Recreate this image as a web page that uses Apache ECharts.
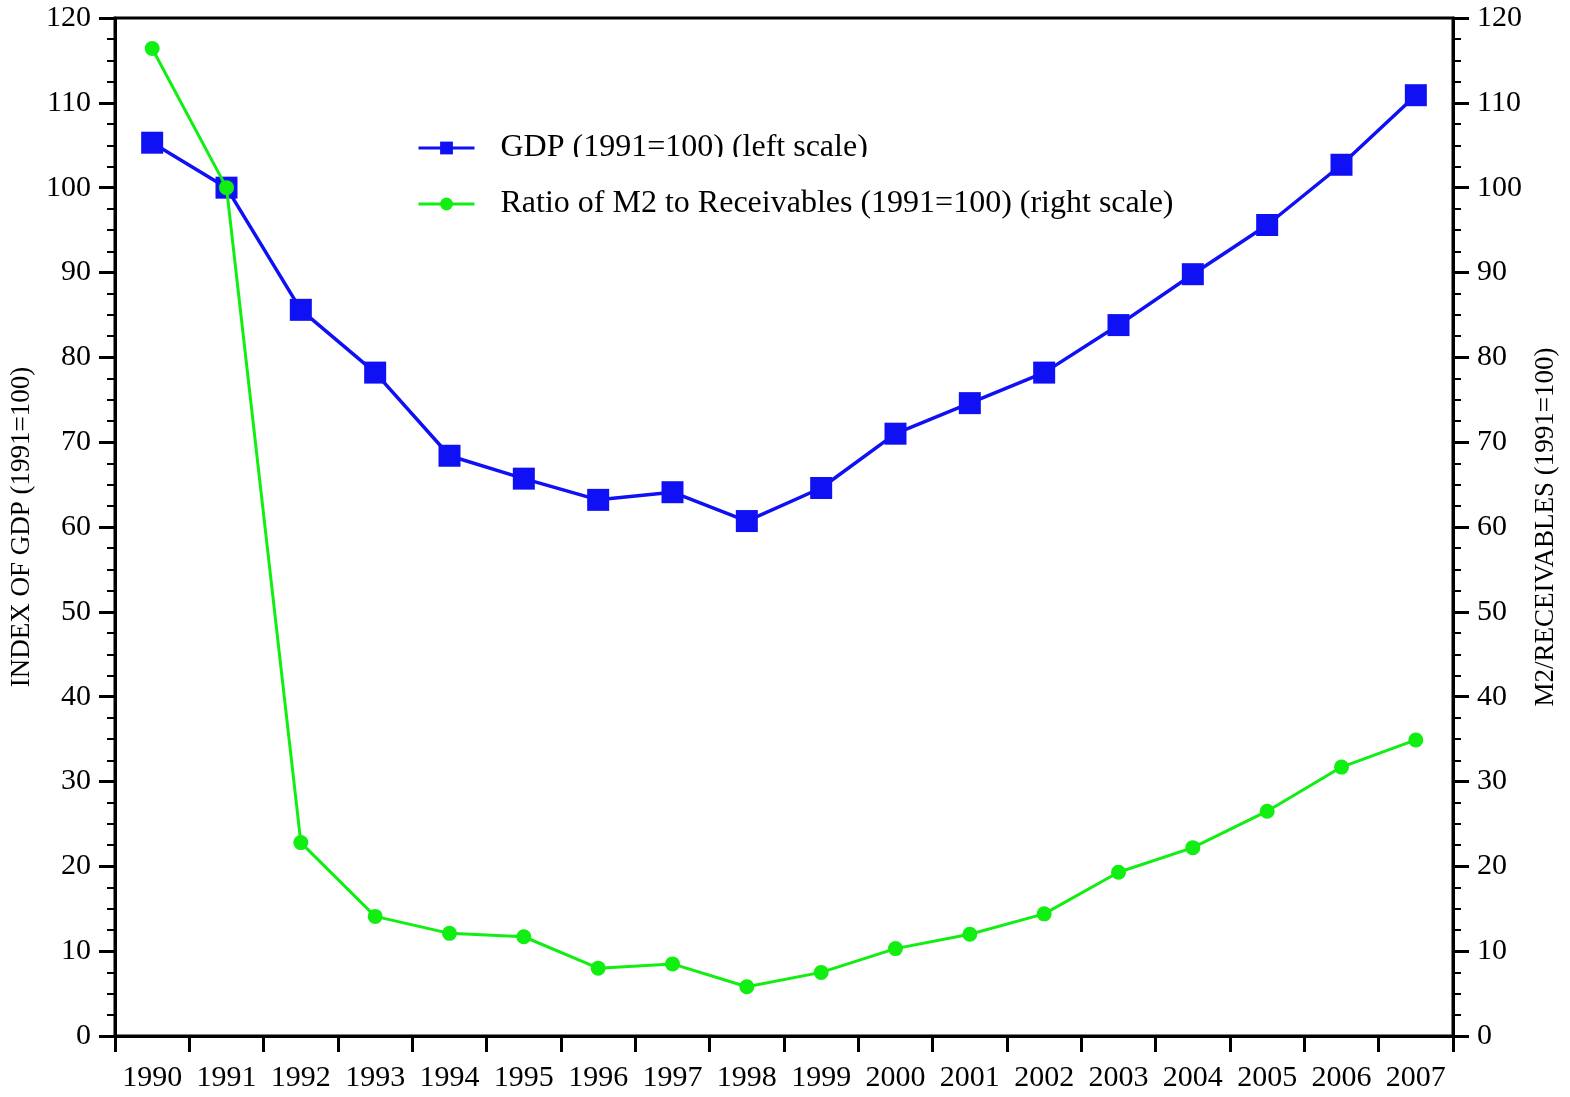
<!DOCTYPE html>
<html>
<head>
<meta charset="utf-8">
<script src="https://cdn.jsdelivr.net/npm/echarts@6/dist/echarts.min.js"></script>
<style>
  html, body { margin: 0; padding: 0; background: #fff; }
  #chart { width: 1570px; height: 1097px; }
</style>
</head>
<body>
<div id="chart"></div>
<script>
// years on the x axis
const years = ['1990', '1991', '1992', '1993', '1994', '1995', '1996', '1997', '1998',
  '1999', '2000', '2001', '2002', '2003', '2004', '2005', '2006', '2007'];
// GDP index (1991=100), left scale
const gdpIndex = [105.3, 100, 85.6, 78.2, 68.4, 65.7, 63.2, 64.1, 60.7,
  64.6, 71.0, 74.6, 78.2, 83.8, 89.8, 95.6, 102.7, 110.9];
// M2 / receivables (1991=100), right scale
const m2Ratio = [116.4, 100, 22.8, 14.1, 12.1, 11.7, 8.0, 8.5, 5.8,
  7.5, 10.3, 12.0, 14.4, 19.3, 22.2, 26.5, 31.7, 34.9];

const FONT = '"Liberation Serif", "DejaVu Serif", serif';
const BLUE = '#1010f5';
const GREEN = '#11ee11';

const chart = echarts.init(document.getElementById('chart'));

function valueAxis(pos, name) {
  return {
    type: 'value',
    position: pos,
    min: 0,
    max: 120,
    interval: 10,
    name: name,
    nameLocation: 'middle',
    nameGap: pos === 'left' ? 76 : 78,
    nameTextStyle: { fontFamily: FONT, fontSize: 27, color: '#000' },
    axisLine: { show: true, lineStyle: { color: '#000', width: 3 } },
    axisTick: { show: true, inside: false, length: 16, lineStyle: { color: '#000', width: 3 } },
    minorTick: { show: true, splitNumber: 4, length: 8, lineStyle: { color: '#000', width: 2 } },
    axisLabel: { fontFamily: FONT, fontSize: 30, color: '#000', margin: 24 },
    splitLine: { show: false }
  };
}

chart.setOption({
  animation: false,
  backgroundColor: '#fff',
  grid: {
    left: 115, right: 117, top: 18, bottom: 61,
    show: true, borderColor: '#000', borderWidth: 3, backgroundColor: 'transparent'
  },
  legend: {
    left: 412,
    top: 127,
    orient: 'vertical',
    itemWidth: 56,
    itemHeight: 16,
    itemGap: 24,
    lineStyle: { width: 3 },
    textStyle: { fontFamily: FONT, fontSize: 32, color: '#000', padding: [0, 0, 0, 21] },
    data: ['GDP (1991=100) (left scale)', 'Ratio of M2 to Receivables (1991=100) (right scale)']
  },
  xAxis: {
    type: 'category',
    data: years,
    boundaryGap: true,
    axisLine: { lineStyle: { color: '#000', width: 3 } },
    axisTick: { show: true, length: 16, interval: 0, lineStyle: { color: '#000', width: 3 } },
    axisLabel: { fontFamily: FONT, fontSize: 30, color: '#000', margin: 27, interval: 0 }
  },
  yAxis: [
    valueAxis('left', 'INDEX OF GDP (1991=100)'),
    valueAxis('right', 'M2/RECEIVABLES (1991=100)')
  ],
  series: [
    {
      name: 'GDP (1991=100) (left scale)',
      type: 'line',
      yAxisIndex: 0,
      data: gdpIndex,
      symbol: 'rect',
      symbolSize: 22,
      lineStyle: { color: BLUE, width: 3.5 },
      itemStyle: { color: BLUE },
      z: 3
    },
    {
      name: 'Ratio of M2 to Receivables (1991=100) (right scale)',
      type: 'line',
      yAxisIndex: 1,
      data: m2Ratio,
      symbol: 'circle',
      symbolSize: 15,
      lineStyle: { color: GREEN, width: 3 },
      itemStyle: { color: GREEN },
      z: 4
    }
  ],
  graphic: [
    {
      // the first legend line is cut off at the bottom in the source
      type: 'rect',
      shape: { x: 490, y: 157, width: 420, height: 14 },
      style: { fill: '#fff' },
      z: 100
    }
  ]
});
</script>
</body>
</html>
